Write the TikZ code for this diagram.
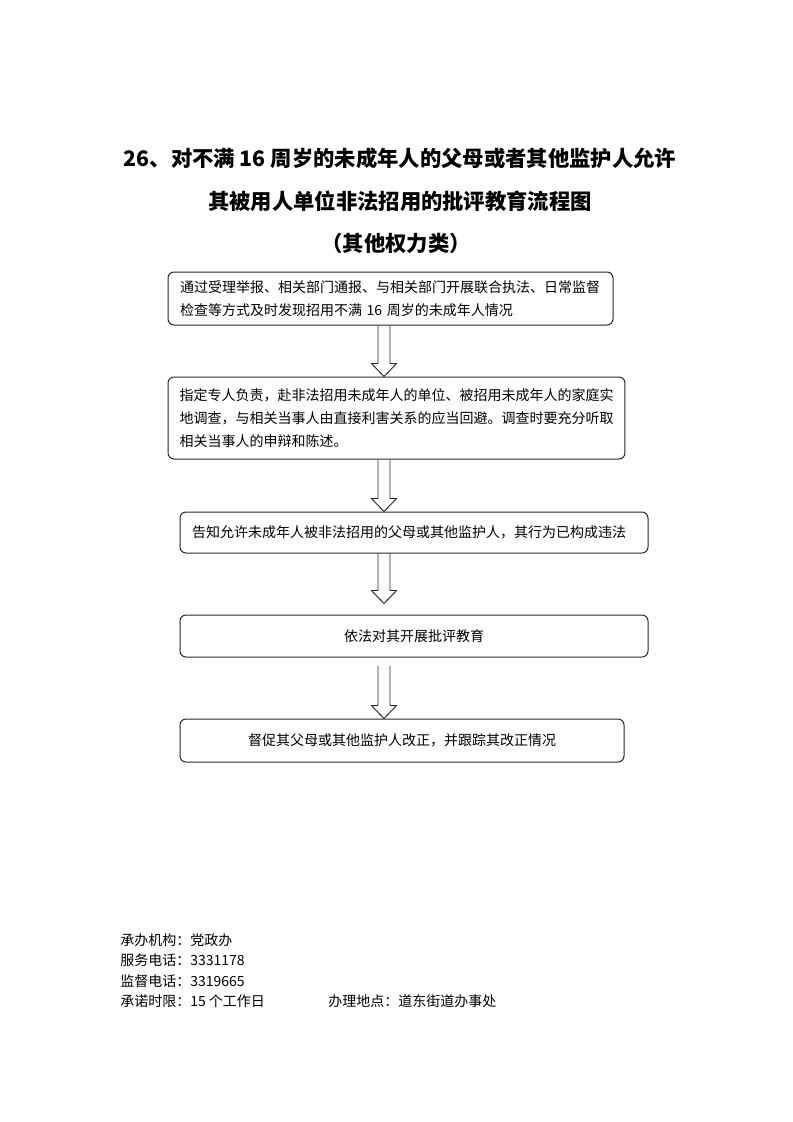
\documentclass[tikz,border=0pt]{standalone}
\usepackage{fontspec}
\setmainfont{Noto Sans CJK SC}
\usetikzlibrary{calc}

% hollow block arrow between two boxes: from, to, start gap, end gap (pt)
\newcommand\flowarrow[4]{%
  \draw[hollow] let \p1=(#1.south -| ax), \p2=(#2.north -| ax) in
    (\x1-4.5pt,\y1-#3pt) -- (\x1-4.5pt,\y2+#4pt+9.75pt) -- (\x1-9.4pt,\y2+#4pt+9.75pt)
    -- (\x1,\y2+#4pt) -- (\x1+9.4pt,\y2+#4pt+9.75pt) -- (\x1+4.5pt,\y2+#4pt+9.75pt)
    -- (\x1+4.5pt,\y1-#3pt);}

\begin{document}
\begin{tikzpicture}[x=0.75pt,y=-0.75pt,
    stepbox/.style={draw=black!85,line width=0.75pt,rounded corners=4.5pt,
      inner ysep=0pt,font=\fontsize{10.5pt}{17pt}\selectfont},
    hollow/.style={draw=black!85,line width=0.7pt},
    titletext/.style={font=\fontsize{16pt}{20pt}\selectfont\bfseries},
    foot/.style={anchor=west,inner sep=0pt,font=\fontsize{10.5pt}{14pt}\selectfont}]
  \useasboundingbox (0,0) rectangle (793,1122);

  \node[titletext] (t1) at (400,158) {26、对不满 16 周岁的未成年人的父母或者其他监护人允许};
  \node[titletext] (t2) at (400,201) {其被用人单位非法招用的批评教育流程图};
  \node[titletext] (t3) at (396,243) {（其他权力类）};

  \coordinate (ax) at (384,0);

  \node[stepbox,align=left,inner xsep=9pt,text width={421*0.75pt},minimum height={53*0.75pt}]
    (b1) at (390.5,298.5) {通过受理举报、相关部门通报、与相关部门开展联合执法、日常监督\\
    检查等方式及时发现招用不满 16 周岁的未成年人情况};
  \node[stepbox,align=left,inner xsep=8.6pt,text width={434*0.75pt},minimum height={82*0.75pt}]
    (b2) at (396.5,418) {指定专人负责，赴非法招用未成年人的单位、被招用未成年人的家庭实\\
    地调查，与相关当事人由直接利害关系的应当回避。调查时要充分听取\\
    相关当事人的申辩和陈述。};
  \node[stepbox,align=left,inner xsep=9pt,text width={444*0.75pt},minimum height={41*0.75pt}]
    (b3) at (414,532.5) {告知允许未成年人被非法招用的父母或其他监护人，其行为已构成违法};
  \node[stepbox,align=center,minimum width={468*0.75pt},minimum height={42*0.75pt}]
    (b4) at (414,636) {依法对其开展批评教育};
  \node[stepbox,align=center,minimum width={444*0.75pt},minimum height={43*0.75pt}]
    (b5) at (402,740.5) {督促其父母或其他监护人改正，并跟踪其改正情况};

  \flowarrow{b1}{b2}{0}{0}
  \flowarrow{b2}{b3}{0}{0}
  \flowarrow{b3}{b4}{0}{8.25}
  \flowarrow{b4}{b5}{6}{0}

  \node[foot] (f1) at (120,940) {承办机构：党政办};
  \node[foot] (f2) at (120,960) {服务电话：3331178};
  \node[foot] (f3) at (120,981) {监督电话：3319665};
  \node[foot] (f4) at (120,1001) {承诺时限：15 个工作日};
  \node[foot] (f5) at (328,1001) {办理地点：道东街道办事处};
\end{tikzpicture}
\end{document}
